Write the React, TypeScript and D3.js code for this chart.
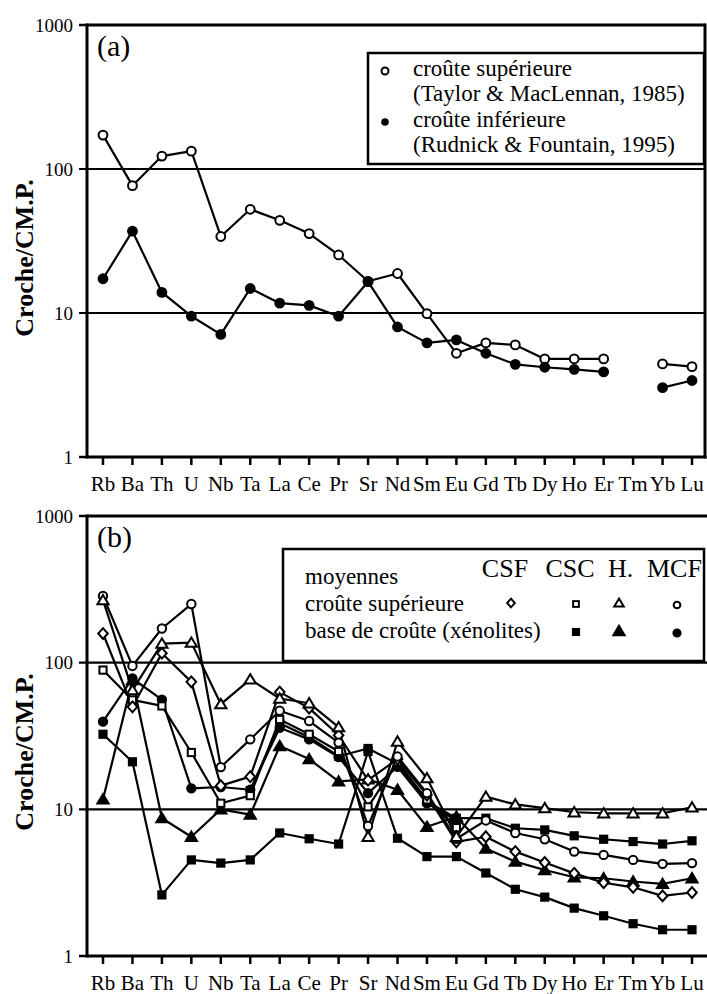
import React from "react";
import * as d3 from "d3";

const elements = ["Rb","Ba","Th","U","Nb","Ta","La","Ce","Pr","Sr","Nd","Sm","Eu","Gd","Tb","Dy","Ho","Er","Tm","Yb","Lu"];
const yTicks = [1, 10, 100, 1000];

// Panel (a)
const upperCrustTM: (number | null)[] = [172, 76.6, 123, 133, 34, 52.5, 44, 35.6, 25.3, 16.6, 18.8, 9.9, 5.25, 6.2, 6.0, 4.8, 4.8, 4.8, null, 4.43, 4.24];
const lowerCrustRF: (number | null)[] = [17.3, 37, 13.9, 9.5, 7.1, 14.8, 11.7, 11.3, 9.5, 16.5, 8.0, 6.2, 6.5, 5.25, 4.4, 4.2, 4.06, 3.9, null, 3.03, 3.4];

// Panel (b)
const csfUpper: (number | null)[] = [158, 50, 116, 74, 14.5, 16.7, 63, 49, 32, 15.8, 22, 12.5, 6.0, 6.5, 5.15, 4.34, 3.66, 3.16, 2.94, 2.57, 2.71];
const cscUpper: (number | null)[] = [89, 55.7, 50.7, 24.4, 11.0, 12.4, 41, 32.5, 24.8, 10.4, 21.1, 11.6, 7.5, null, null, null, null, null, null, null, null];
const cscBaseLow: (number | null)[] = [32.5, 21.1, 2.61, 4.52, 4.3, 4.52, 6.9, 6.3, 5.8, 24.8, 6.35, 4.76, 4.76, 3.68, 2.85, 2.52, 2.12, 1.88, 1.66, 1.51, 1.51];
const hUpper: (number | null)[] = [267, 65, 135, 137, 52.2, 77, 57, 52.9, 36.3, 6.5, 29, 16.3, 6.5, 12.2, 10.8, 10.2, 9.55, 9.4, 9.4, 9.4, 10.3];
const hBase: (number | null)[] = [11.7, 76, 8.7, 6.5, 10.0, 9.2, 27, 22, 15.5, 16, 13.6, 7.6, 8.9, 5.4, 4.4, 3.86, 3.44, 3.39, 3.22, 3.1, 3.39];
const mcfUpper: (number | null)[] = [285, 95, 171, 251, 19.4, 30, 47, 40, 28.5, 7.7, 22.9, 12.9, 6.3, 8.4, 6.9, 6.25, 5.15, 4.89, 4.52, 4.25, 4.3];
const mcfBase: (number | null)[] = [39.6, 78, 56, 13.9, 14.2, 13.6, 36, 30, 22.7, 12.9, 19.5, 11.0, 8.4, null, null, null, null, null, null, null, null];
const cscBaseHigh: (number | null)[] = [null, null, null, null, null, 13.4, 38.6, 31, 23, 26, 20.5, 11.3, 8.7, 8.7, 7.43, 7.24, 6.6, 6.25, 6.03, 5.8, 6.1];

type Shape = "circle" | "square" | "triangle" | "diamond";
interface Series { values: (number | null)[]; shape: Shape; filled: boolean; }

const seriesA: Series[] = [
  { values: upperCrustTM, shape: "circle", filled: false },
  { values: lowerCrustRF, shape: "circle", filled: true },
];
const seriesB: Series[] = [
  { values: cscBaseLow, shape: "square", filled: true },
  { values: cscBaseHigh, shape: "square", filled: true },
  { values: hBase, shape: "triangle", filled: true },
  { values: mcfBase, shape: "circle", filled: true },
  { values: cscUpper, shape: "square", filled: false },
  { values: csfUpper, shape: "diamond", filled: false },
  { values: mcfUpper, shape: "circle", filled: false },
  { values: hUpper, shape: "triangle", filled: false },
];

const FONT = "Liberation Serif, Times New Roman, Times, serif";
const T = { fontFamily: FONT } as React.CSSProperties;

function Marker({ x, y, shape, filled, s = 1 }: { x: number; y: number; shape: Shape; filled: boolean; s?: number }) {
  const fill = filled ? "#000" : "#fff";
  const sw = 2;
  if (shape === "circle") return <circle cx={x} cy={y} r={4.2 * s} fill={fill} stroke="#000" strokeWidth={sw} />;
  if (shape === "square") {
    const h = 3.6 * s;
    return <rect x={x - h} y={y - h} width={2 * h} height={2 * h} fill={fill} stroke="#000" strokeWidth={sw} />;
  }
  if (shape === "triangle") {
    const w = 5.6 * s, hh = 5.2 * s;
    return <path d={`M${x},${y - hh}L${x + w},${y + hh * 0.8}L${x - w},${y + hh * 0.8}Z`} fill={fill} stroke="#000" strokeWidth={sw} strokeLinejoin="miter" />;
  }
  const w = 4.8 * s, hh = 5.4 * s;
  return <path d={`M${x},${y - hh}L${x + w},${y}L${x},${y + hh}L${x - w},${y}Z`} fill={fill} stroke="#000" strokeWidth={sw} />;
}

function Panel({ top, bottom, right, rightBorder, series, label, labelY, markerScale }:
  { top: number; bottom: number; right: number; rightBorder: boolean; series: Series[]; label: string; labelY: number; markerScale: number }) {
  const left = 87;
  const x = d3.scalePoint<string>().domain(elements).range([103, 692]);
  const y = d3.scaleLog().domain([1, 1000]).range([bottom, top]);
  const line = d3.line<{ e: string; v: number | null }>()
    .defined(d => d.v != null)
    .x(d => x(d.e) as number)
    .y(d => y(d.v as number));
  return (
    <g>
      {[10, 100].map(v => (
        <line key={v} x1={79} x2={right} y1={y(v)} y2={y(v)} stroke="#000" strokeWidth={2.2} />
      ))}
      {[1, 1000].map(v => (
        <line key={v} x1={79} x2={left} y1={y(v)} y2={y(v)} stroke="#000" strokeWidth={2.5} />
      ))}
      <line x1={left} x2={right} y1={top} y2={top} stroke="#000" strokeWidth={3} />
      <line x1={left} x2={right + 1.5} y1={bottom} y2={bottom} stroke="#000" strokeWidth={3} />
      <line x1={left} x2={left} y1={top - 1.5} y2={bottom + 1.5} stroke="#000" strokeWidth={3} />
      {rightBorder && <line x1={right} x2={right} y1={top - 1.5} y2={bottom + 1.5} stroke="#000" strokeWidth={3} />}
      {elements.map(e => (
        <line key={e} x1={x(e)} x2={x(e)} y1={bottom} y2={bottom + 8} stroke="#000" strokeWidth={2.5} />
      ))}
      {yTicks.map(v => (
        <text key={v} x={73} y={y(v) + 6.5} textAnchor="end" style={T} fontSize={19}>{v}</text>
      ))}
      {elements.map(e => (
        <text key={e} x={x(e)} y={bottom + 34} textAnchor="middle" style={T} fontSize={21}>{e}</text>
      ))}
      <text transform={`translate(33,${labelY}) rotate(-90)`} textAnchor="middle" style={T} fontSize={26} fontWeight="bold">Croche/CM.P.</text>
      <text x={97} y={top + 31} style={T} fontSize={30}>{label}</text>
      {series.map((s, i) => (
        <path key={"l" + i} d={line(elements.map((e, j) => ({ e, v: s.values[j] }))) || ""} fill="none" stroke="#000" strokeWidth={2.2} strokeLinejoin="round" />
      ))}
      {series.map((s, i) => (
        <g key={"m" + i}>
          {elements.map((e, j) => s.values[j] == null ? null : (
            <Marker key={e} x={x(e) as number} y={y(s.values[j] as number)} shape={s.shape} filled={s.filled} s={markerScale} />
          ))}
        </g>
      ))}
    </g>
  );
}

export default function App() {
  return (
    <svg width={707} height={994} style={{ position: "absolute", left: 0, top: 0, background: "#fff" }}>
      <rect x={0} y={0} width={707} height={994} fill="#fff" />
      <Panel top={25} bottom={457} right={705} rightBorder={true} series={seriesA} label="(a)" labelY={258} markerScale={1.05} />
      <rect x={368} y={53} width={336} height={111} fill="#fff" stroke="#000" strokeWidth={2.5} />
      <circle cx={385} cy={71} r={3.5} fill="#fff" stroke="#000" strokeWidth={2} />
      <circle cx={385} cy={122} r={3.8} fill="#000" />
      <g style={T} fontSize={23}>
        <text x={413} y={76}>croûte supérieure</text>
        <text x={413} y={101}>(Taylor &amp; MacLennan, 1985)</text>
        <text x={413} y={127}>croûte inférieure</text>
        <text x={413} y={152}>(Rudnick &amp; Fountain, 1995)</text>
      </g>

      <Panel top={516} bottom={956} right={712} rightBorder={false} series={seriesB} label="(b)" labelY={752} markerScale={1} />
      <rect x={283} y={549} width={421} height={112} fill="#fff" stroke="#000" strokeWidth={2.5} />
      <g style={T} fontSize={23}>
        <text x={305} y={584}>moyennes</text>
        <text x={305} y={611}>croûte supérieure</text>
        <text x={305} y={638}>base de croûte (xénolites)</text>
      </g>
      <g style={T} fontSize={26}>
        <text x={505} y={577} textAnchor="middle">CSF</text>
        <text x={570} y={577} textAnchor="middle">CSC</text>
        <text x={608} y={577}>H.</text>
        <text x={647} y={577}>MCF</text>
      </g>
      <Marker x={511} y={603} shape="diamond" filled={false} s={0.8} />
      <Marker x={576} y={604} shape="square" filled={false} s={0.8} />
      <Marker x={619} y={603} shape="triangle" filled={false} s={0.85} />
      <Marker x={677} y={605} shape="circle" filled={false} s={0.8} />
      <Marker x={576} y={632} shape="square" filled={true} s={0.85} />
      <Marker x={619} y={631} shape="triangle" filled={true} s={1} />
      <Marker x={677} y={633} shape="circle" filled={true} s={0.85} />
    </svg>
  );
}
